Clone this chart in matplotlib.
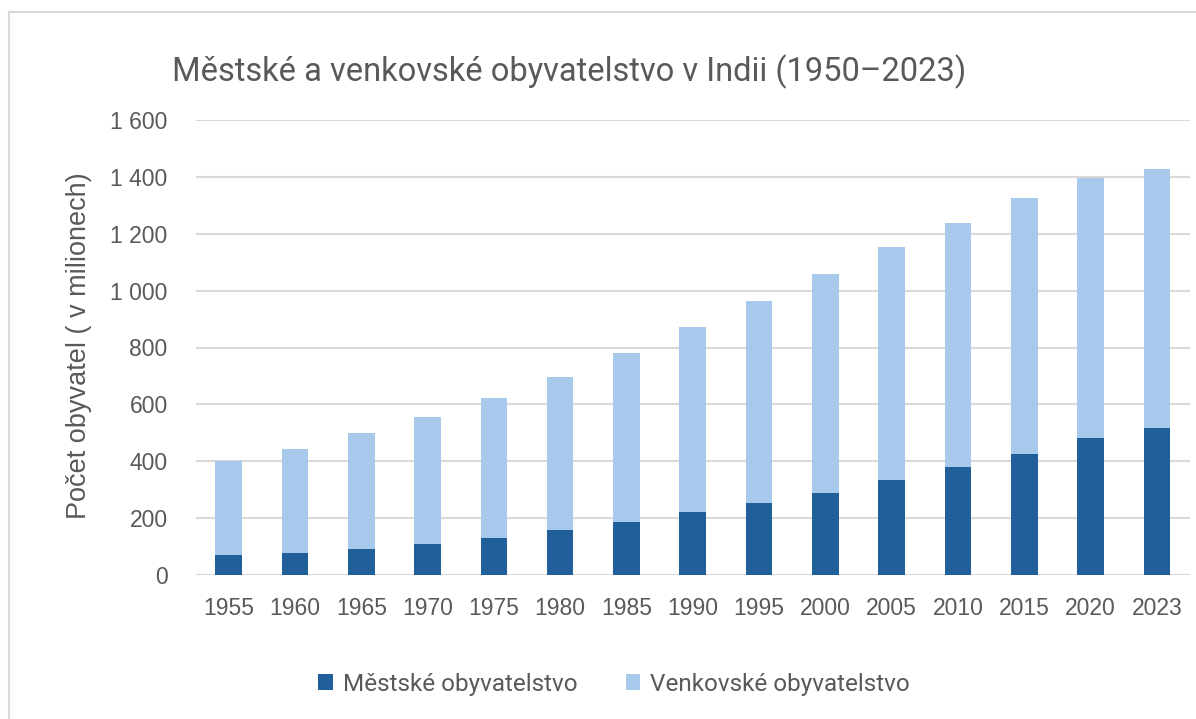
import matplotlib
matplotlib.use("Agg")
import matplotlib.pyplot as plt
from matplotlib.patches import Patch
from matplotlib.lines import Line2D
from matplotlib.ticker import FuncFormatter
import numpy as np

years = ["1955", "1960", "1965", "1970", "1975", "1980", "1985", "1990",
         "1995", "2000", "2005", "2010", "2015", "2020", "2023"]
urban = [70, 79, 91, 108, 131, 160, 188, 221, 254, 290, 334, 379, 427, 481, 516]
total = [400, 444, 499, 556, 623, 696, 780, 871, 964, 1059, 1153, 1239, 1324, 1396, 1427]
rural = [t - u for t, u in zip(total, urban)]

title = "Městské a venkovské obyvatelstvo v Indii (1950–2023)"
ylabel = "Počet obyvatel ( v milionech)"
labels = ["Městské obyvatelstvo", "Venkovské obyvatelstvo"]

c_urban = "#215F9A"
c_rural = "#A6C9EC"
gray = "#595959"

W, H = 1196, 719
fig = plt.figure(figsize=(W / 100, H / 100), dpi=100)
ax = fig.add_axes([195.5 / W, 1 - 575 / H, (1190 - 195.5) / W, (575 - 120) / H])

x = np.arange(len(years))
ax.bar(x, urban, width=0.40, color=c_urban, zorder=3)
ax.bar(x, rural, width=0.40, bottom=urban, color=c_rural, zorder=3)

ax.set_xlim(-0.5, len(years) - 0.5)
ax.set_ylim(0, 1600)
ax.set_yticks(range(0, 1601, 200))
ax.yaxis.set_major_formatter(FuncFormatter(lambda v, p: f"{int(v):,}".replace(",", " ")))
ax.set_xticks(x)
ax.set_xticklabels(years)
ax.grid(axis="y", color="#D9D9D9", linewidth=1.5, zorder=0)
for s in ax.spines.values():
    s.set_visible(False)
ax.tick_params(axis="both", length=0, labelsize=16.5, labelcolor=gray)
ax.tick_params(axis="y", pad=20)
ax.tick_params(axis="x", pad=16)
for lab in ax.get_xticklabels() + ax.get_yticklabels():
    lab.set_fontfamily("Liberation Sans")

fig.text(79 / W, 1 - 346 / H, ylabel, rotation=90, ha="center", va="center",
         fontsize=19.5, color=gray, family="Liberation Sans")
fig.text(172 / W, 1 - 72 / H, title, ha="left", va="center",
         fontsize=23.5, color=gray, family="Roboto")

handles = [Patch(facecolor=c_urban), Patch(facecolor=c_rural)]
leg = fig.legend(handles, labels, loc="center", bbox_to_anchor=(614 / W, 1 - 684 / H),
                 ncol=2, frameon=False, prop={"family": "Roboto", "size": 17.5},
                 handlelength=0.6, handleheight=0.6, handletextpad=0.4,
                 columnspacing=2.0)
for t in leg.get_texts():
    t.set_color(gray)

# outer chart border
fig.add_artist(Line2D([9 / W, 1], [1 - 12 / H, 1 - 12 / H], color="#D9D9D9", lw=1.5))
fig.add_artist(Line2D([9 / W, 9 / W], [0, 1 - 12 / H], color="#D9D9D9", lw=1.5))

fig.savefig("out.png", dpi=100, facecolor="white")
